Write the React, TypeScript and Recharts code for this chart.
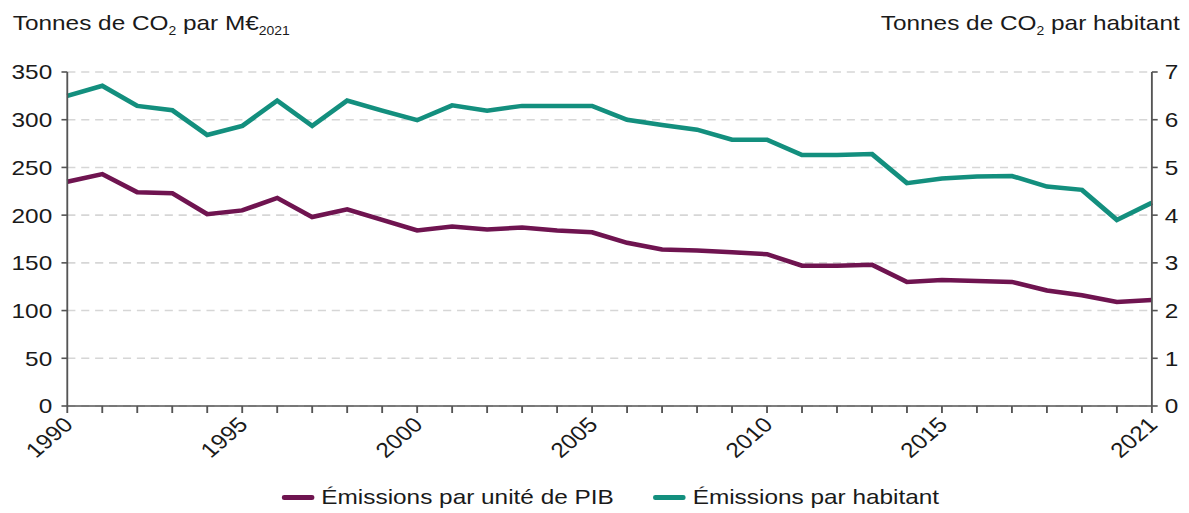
import React from "react";
import { LineChart, Line, XAxis, YAxis, CartesianGrid, Legend } from "recharts";

const YEARS = [
  1990, 1991, 1992, 1993, 1994, 1995, 1996, 1997, 1998, 1999, 2000, 2001, 2002, 2003, 2004, 2005,
  2006, 2007, 2008, 2009, 2010, 2011, 2012, 2013, 2014, 2015, 2016, 2017, 2018, 2019, 2020, 2021,
];

// tonnes de CO2 par M€2021 (axe gauche)
const EMISSIONS_PIB = [
  235, 243, 224, 223, 201, 205, 218, 198, 206, 195, 184, 188, 185, 187, 184, 182,
  171, 164, 163, 161, 159, 147, 147, 148, 130, 132, 131, 130, 121, 116, 109, 111,
];

// tonnes de CO2 par habitant (axe droit)
const EMISSIONS_HAB = [
  6.5, 6.71, 6.29, 6.2, 5.68, 5.87, 6.4, 5.87, 6.4, 6.19, 5.99, 6.3, 6.19, 6.29, 6.29, 6.29,
  6.0, 5.89, 5.79, 5.58, 5.58, 5.26, 5.26, 5.28, 4.67, 4.77, 4.81, 4.82, 4.6, 4.53, 3.9, 4.26,
];

const LABEL_YEARS = [1990, 1995, 2000, 2005, 2010, 2015, 2021];
const LEFT_TICKS = [0, 50, 100, 150, 200, 250, 300, 350];
const RIGHT_TICKS = [0, 1, 2, 3, 4, 5, 6, 7];

const PURPLE = "#6f1450";
const TEAL = "#138f7e";
const AXIS = "#555555";
const TEXT = "#1a1a1a";
const FONT = "'Liberation Sans', Arial, sans-serif";

const SERIES = [
  { key: "pib", name: "Émissions par unité de PIB", color: PURPLE, axis: "left" },
  { key: "hab", name: "Émissions par habitant", color: TEAL, axis: "right" },
];

// the source picture is stretched horizontally, so the whole chart is too
const STRETCH = 1.16;
const W = 1025;
const H = 513;

const data = YEARS.map((year, i) => ({
  year,
  pib: EMISSIONS_PIB[i],
  hab: EMISSIONS_HAB[i],
}));

const YearTick = (props: any) => {
  const { x, y, payload } = props;
  if (!LABEL_YEARS.includes(payload.value)) return <g />;
  const ax = x + 6;
  const ay = y + 11;
  return (
    <text
      x={ax}
      y={ay}
      transform={`rotate(-45, ${ax}, ${ay})`}
      textAnchor="end"
      fontSize={21}
      fontFamily={FONT}
      fill={TEXT}
    >
      {payload.value}
    </text>
  );
};

const LegendContent = () => (
  <div
    style={{
      display: "flex",
      alignItems: "center",
      height: 32,
      paddingLeft: 243,
      fontFamily: FONT,
      fontSize: 21,
      color: TEXT,
    }}
  >
    {SERIES.map((s) => (
      <div key={s.key} style={{ display: "flex", alignItems: "center", marginRight: 34 }}>
        <span
          style={{
            display: "inline-block",
            width: 28,
            height: 5,
            borderRadius: 2,
            background: s.color,
            marginRight: 6,
          }}
        />
        <span>{s.name}</span>
      </div>
    ))}
  </div>
);

export default function App() {
  return (
    <div
      style={{
        position: "absolute",
        left: 0,
        top: 0,
        width: W,
        height: H,
        background: "#ffffff",
        transform: `scale(${STRETCH}, 1)`,
        transformOrigin: "0 0",
        fontFamily: FONT,
        color: TEXT,
      }}
    >
      <div style={{ position: "absolute", left: 11, top: 11, fontSize: 21, whiteSpace: "nowrap" }}>
        Tonnes de CO<sub style={{ fontSize: 12 }}>2</sub> par M€<sub style={{ fontSize: 12 }}>2021</sub>
      </div>
      <div style={{ position: "absolute", right: 8, top: 11, fontSize: 21, whiteSpace: "nowrap" }}>
        Tonnes de CO<sub style={{ fontSize: 12 }}>2</sub> par habitant
      </div>

      <LineChart width={W} height={H} data={data} margin={{ top: 72, right: 2, left: 8, bottom: 0 }}>
        <CartesianGrid
          yAxisId="left"
          vertical={false}
          stroke="#d6d6d6"
          strokeWidth={1.6}
          strokeDasharray="7 5"
        />
        <XAxis
          dataKey="year"
          type="number"
          domain={[1990, 2021]}
          ticks={YEARS}
          interval={0}
          height={75}
          tickSize={7}
          tickMargin={2}
          tick={<YearTick />}
          axisLine={{ stroke: AXIS, strokeWidth: 1.6 }}
          tickLine={{ stroke: AXIS, strokeWidth: 1.6 }}
        />
        <YAxis
          yAxisId="left"
          domain={[0, 350]}
          ticks={LEFT_TICKS}
          interval={0}
          width={50}
          tickSize={5}
          tickMargin={8}
          tick={{ fontSize: 21, fill: TEXT, fontFamily: FONT }}
          axisLine={{ stroke: AXIS, strokeWidth: 1.6 }}
          tickLine={{ stroke: AXIS, strokeWidth: 1.6 }}
        />
        <YAxis
          yAxisId="right"
          orientation="right"
          domain={[0, 7]}
          ticks={RIGHT_TICKS}
          interval={0}
          width={30}
          tickSize={5}
          tickMargin={6}
          tick={{ fontSize: 21, fill: TEXT, fontFamily: FONT }}
          axisLine={{ stroke: AXIS, strokeWidth: 1.6 }}
          tickLine={{ stroke: AXIS, strokeWidth: 1.6 }}
        />
        <Legend
          verticalAlign="bottom"
          height={32}
          content={<LegendContent />}
          wrapperStyle={{ left: 0, bottom: 0, width: W }}
        />
        {SERIES.map((s) => (
          <Line
            key={s.key}
            yAxisId={s.axis}
            dataKey={s.key}
            name={s.name}
            type="linear"
            stroke={s.color}
            strokeWidth={4.5}
            dot={false}
            activeDot={false}
            isAnimationActive={false}
          />
        ))}
      </LineChart>
    </div>
  );
}
